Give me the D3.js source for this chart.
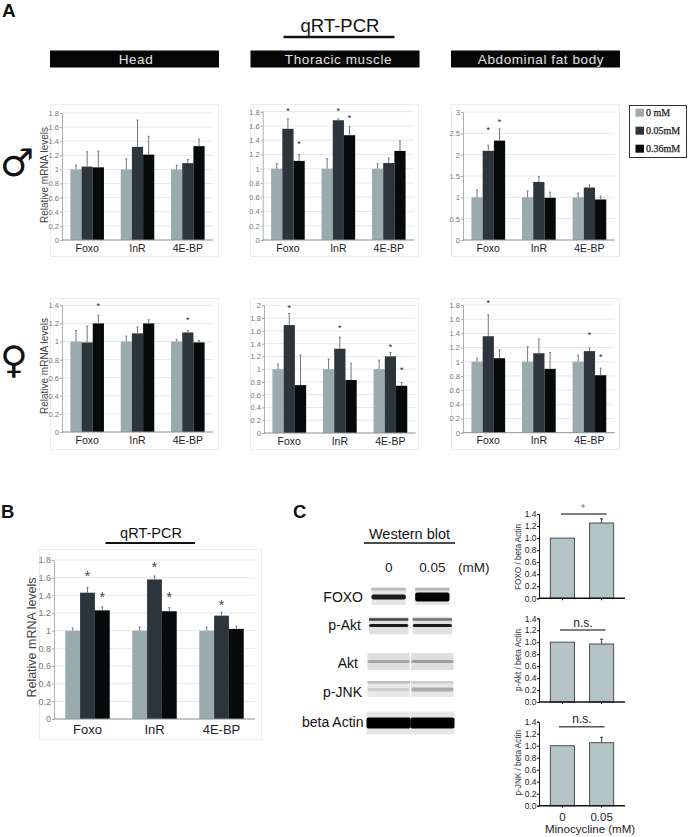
<!DOCTYPE html>
<html><head><meta charset="utf-8">
<style>html,body{margin:0;padding:0;background:#fff}svg{display:block}text{font-family:"Liberation Sans",Arial,sans-serif}</style>
<script src="https://cdn.jsdelivr.net/npm/d3@7"></script></head><body><div id="c"></div>
<script>
// ---- data ----
const categories = ["Foxo","InR","4E-BP"];
const doses = ["0 mM","0.05mM","0.36mM"];
const ticks18 = [0,0.2,0.4,0.6,0.8,1,1.2,1.4,1.6,1.8];
const ticks14 = [0,0.2,0.4,0.6,0.8,1,1.2,1.4];
const ticks20 = [0,0.2,0.4,0.6,0.8,1,1.2,1.4,1.6,1.8,2];
const ticks30 = [0,0.5,1,1.5,2,2.5,3];
const maleHeadValues = [[1,1.04,1.03],[1,1.32,1.21],[1,1.09,1.33]];
const maleHeadTops   = [[1.06,1.25,1.26],[1.15,1.70,1.47],[1.06,1.14,1.43]];
const maleThoraxValues = [[1,1.56,1.11],[1,1.68,1.47],[1,1.08,1.25]];
const maleThoraxTops   = [[1.07,1.70,1.20],[1.14,1.70,1.59],[1.07,1.15,1.39]];
const maleThoraxStars  = [[null,1.81,1.36],[null,1.81,1.725],[null,null,null]];
const maleFatValues = [[1,2.09,2.33],[1,1.36,0.99],[1,1.23,0.95]];
const maleFatTops   = [[1.17,2.22,2.60],[1.15,1.48,1.12],[1.10,1.29,1.03]];
const maleFatStars  = [[null,2.58,2.77],[null,null,null],[null,null,null]];
const femaleHeadValues = [[1,0.99,1.20],[1,1.09,1.20],[1,1.10,0.99]];
const femaleHeadTops   = [[1.12,1.17,1.29],[1.06,1.16,1.24],[1.02,1.12,1.01]];
const femaleHeadStars  = [[null,null,1.40],[null,null,null],[null,1.24,null]];
const femaleThoraxValues = [[1,1.69,0.75],[1,1.32,0.83],[1,1.20,0.74]];
const femaleThoraxTops   = [[1.08,1.87,1.22],[1.16,1.50,1.09],[1.14,1.26,0.79]];
const femaleThoraxStars  = [[null,1.96,null],[null,1.65,null],[null,1.36,1.0]];
const femaleFatValues = [[1,1.36,1.05],[1,1.12,0.90],[1,1.15,0.81]];
const femaleFatTops   = [[1.05,1.66,1.17],[1.21,1.32,1.13],[1.09,1.19,0.91]];
const femaleFatStars  = [[null,1.83,null],[null,null,null],[null,1.38,1.07]];
const panelBValues = [[1,1.43,1.23],[1,1.58,1.22],[1,1.17,1.02]];
const panelBTops   = [[1.03,1.49,1.27],[1.04,1.62,1.26],[1.04,1.21,1.05]];
const panelBStars  = [[null,1.64,1.40],[null,1.74,1.40],[null,1.31,null]];
const tissues = ["Head","Thoracic muscle","Abdominal fat body"];
const westernDoses = ["0","0.05"];
const blotRows = ["FOXO","p-Akt","Akt","p-JNK","beta Actin"];
const blotBandStrength = [[0.8,1],[0.8,0.8],[0.14,0.16],[0.03,0.12],[1,1]];
const blotUpperStrength = [[0.08,0.1],[0.6,0.35],[0,0],[0.08,0.03],[0,0]];
const blotBackground = [0.22,0.26,0.28,0.2,0.2];
const ratioLabels = ["FOXO / beta Actin","p-Akt / beta Actin","p-JNK / beta Actin"];
const ratioValues = [[1.0,1.25],[1.0,0.97],[1.0,1.05]];
const ratioTops   = [[1.0,1.32],[1.0,1.05],[1.0,1.14]];
const ratioTicks  = [0,0.2,0.4,0.6,0.8,1,1.2,1.4];
const ratioSig    = ["*","n.s.","n.s."];

// ---- drawing ----
const W=688,H=837;
const svg=d3.select("#c").append("svg").attr("width",W).attr("height",H);
const defs=svg.append("defs");
const blur=(id,s)=>defs.append("filter").attr("id",id).attr("x","-20%").attr("y","-80%").attr("width","140%").attr("height","260%")
  .append("feGaussianBlur").attr("stdDeviation",s);
blur("soft",0.5); blur("b1",0.7);
const root=svg.append("g");
const barColors=d3.scaleOrdinal().domain(doses).range(["#9aabb0","#2c353b","#060a0a"]);
const NARROW="'Liberation Sans Narrow','Liberation Sans',sans-serif";
const label=(s,x,y,size,opt={})=>root.append("text").attr("x",x).attr("y",y).attr("font-size",size)
  .attr("text-anchor",opt.anchor||"start").attr("fill",opt.fill||"#111").attr("font-weight",opt.weight||null)
  .style("font-family",opt.family||null).text(s);
const rule=(x1,x2,y,w,c="#111")=>root.append("line").attr("x1",x1).attr("x2",x2).attr("y1",y).attr("y2",y).attr("stroke",c).attr("stroke-width",w);

function barPanel(L,d){
  const g=root.append("g");
  g.append("rect").attr("x",L.fx0+.5).attr("y",L.fy0+.5).attr("width",L.fx1-L.fx0).attr("height",L.fy1-L.fy0)
    .attr("fill","#fff").attr("stroke","#ececec");
  const x=d3.scaleBand().domain(categories).range([L.x0,L.x1]);
  const sub=d3.scaleBand().domain(doses).range([0,x.bandwidth()]).paddingOuter(L.pad||0.75).paddingInner(0);
  const y=d3.scaleLinear().domain([0,d.ticks[d.ticks.length-1]]).range([L.y0,L.yt]);
  g.append("g").selectAll("line").data(d.ticks.filter(t=>t>0)).join("line")
    .attr("x1",L.x0).attr("x2",L.x1).attr("y1",y).attr("y2",y).attr("stroke","#e6e8e8").attr("stroke-width",1);
  const ya=d3.axisLeft(y).tickValues(d.ticks).tickSize(2).tickFormat(d3.format("~g"));
  const ax=g.append("g").attr("transform",`translate(${L.x0},0)`).call(ya);
  ax.selectAll("path,line").attr("stroke","#aab0b0");
  ax.selectAll("text").attr("font-size",L.tick||7.5).attr("fill","#777").attr("x",-3).style("font-family",NARROW);
  const gs=g.selectAll(".grp").data(categories).join("g").attr("transform",c=>`translate(${x(c)},0)`);
  gs.each(function(c,i){
    const s=d3.select(this);
    doses.forEach((dose,j)=>{
      const cx=sub(dose)+sub.bandwidth()/2, ty=y(d.tops[i][j]);
      s.append("rect").attr("x",sub(dose)).attr("y",y(d.values[i][j])).attr("width",sub.bandwidth())
        .attr("height",L.y0-y(d.values[i][j])).attr("fill",barColors(dose));
      s.append("line").attr("x1",cx).attr("x2",cx).attr("y1",ty).attr("y2",y(d.values[i][j])).attr("stroke","#777").attr("stroke-width",1);
      s.append("line").attr("x1",cx-1).attr("x2",cx+1).attr("y1",ty).attr("y2",ty).attr("stroke","#777").attr("stroke-width",1);
      if(d.stars&&d.stars[i][j]!=null){
        s.append("text").attr("x",cx).attr("y",y(d.stars[i][j])+(L.starDy||3.5)).attr("text-anchor","middle")
          .attr("font-size",L.star||9).attr("fill",L.starFill||"#222").text("*");
      }
    });
  });
  g.append("line").attr("x1",L.x0).attr("x2",L.x1).attr("y1",L.y0).attr("y2",L.y0).attr("stroke","#8b9090").attr("stroke-width",1);
  const xa=d3.axisBottom(x).tickSize(0);
  const bx=g.append("g").attr("transform",`translate(0,${L.y0})`).call(xa);
  bx.select("path").remove();
  bx.selectAll("text").attr("font-size",L.cat||10.5).attr("fill","#222").attr("y",0).attr("dy",0)
    .attr("transform",`translate(0,${L.catY})`);
  if(L.yl) g.append("text").attr("transform",`translate(${L.ylx},${L.yly}) rotate(-90)`).attr("text-anchor","middle")
    .attr("font-size",L.ylSize||10).attr("fill","#444").text("Relative mRNA levels");
}

// panel letters & headers
label("A",2,17,19,{weight:"bold"});
label("B",1,518,18.5,{weight:"bold"});
label("C",293,518,18.5,{weight:"bold"});
label("qRT-PCR",340,32,18.5,{anchor:"middle"});
rule(283.5,394.5,37,2.4);
const headerX=d3.scalePoint().domain(tissues).range([50,451]);
const headerTextX=d3.scalePoint().domain(tissues).range([136,541]);
root.selectAll(".hdr").data(tissues).join("rect").attr("x",headerX).attr("y",50.5).attr("width",169).attr("height",17).attr("fill","#060606");
tissues.forEach(t=>root.append("text").attr("x",headerTextX(t)).attr("y",63.5).attr("text-anchor","middle").attr("font-size",13.5)
  .attr("letter-spacing",0.6).attr("fill","#e0e0e0").text(t));

// sex glyphs
label("\u2642",0,176,38,{family:"'DejaVu Sans'",weight:"bold"});
label("\u2640",0,373,38,{family:"'DejaVu Sans'",weight:"bold"});

// rows
barPanel({fx0:50,fx1:218,fy0:104,fy1:256,x0:62,x1:213,y0:240,yt:113,catY:12,yl:1,ylx:47.5,yly:175},
  {values:maleHeadValues,tops:maleHeadTops,ticks:ticks18});
barPanel({fx0:250,fx1:418,fy0:104,fy1:256,x0:262.7,x1:414,y0:240,yt:111.7,catY:12},
  {values:maleThoraxValues,tops:maleThoraxTops,stars:maleThoraxStars,ticks:ticks18});
barPanel({fx0:451,fx1:619,fy0:104,fy1:256,x0:463,x1:614.7,y0:240,yt:112,catY:12},
  {values:maleFatValues,tops:maleFatTops,stars:maleFatStars,ticks:ticks30});
barPanel({fx0:50,fx1:218,fy0:298,fy1:449,x0:62,x1:213,y0:432,yt:305.3,catY:12,yl:1,ylx:47.5,yly:366},
  {values:femaleHeadValues,tops:femaleHeadTops,stars:femaleHeadStars,ticks:ticks14});
barPanel({fx0:250,fx1:418,fy0:298,fy1:449,x0:264,x1:415.7,y0:433,yt:305.3,catY:12},
  {values:femaleThoraxValues,tops:femaleThoraxTops,stars:femaleThoraxStars,ticks:ticks20});
barPanel({fx0:451,fx1:619,fy0:298,fy1:449,x0:463,x1:614.7,y0:432.7,yt:305,catY:11.5},
  {values:femaleFatValues,tops:femaleFatTops,stars:femaleFatStars,ticks:ticks18});

// legend
root.append("rect").attr("x",629.5).attr("y",105.5).attr("width",57).attr("height",52).attr("fill","#fff").attr("stroke","#333").attr("stroke-width",1);
const legY=d3.scalePoint().domain(doses).range([112.7,148.7]);
root.selectAll(".leg").data(doses).join("rect").attr("x",635.5).attr("y",d=>legY(d)-4).attr("width",8.5).attr("height",8).attr("fill",barColors);
doses.forEach(d=>root.append("text").attr("x",646).attr("y",legY(d)+3.5).attr("font-size",10).attr("fill","#222").attr("stroke","#222").attr("stroke-width",.25)
  .style("font-family","'Liberation Serif',serif").text(d));

// panel B
label("qRT-PCR",151,538,14.5,{anchor:"middle"});
rule(105.5,195,543,2.2);
barPanel({fx0:39,fx1:261,fy0:549,fy1:739,x0:54,x1:255,y0:719,yt:560,catY:15,cat:13,tick:9,pad:0.76,star:14,starDy:7,starFill:"#444",yl:1,ylx:35.5,yly:637.5,ylSize:12.5},
  {values:panelBValues,tops:panelBTops,stars:panelBStars,ticks:ticks18});

// panel C: western blot
label("Western blot",409.5,539,14.5,{anchor:"middle"});
rule(364,455,543,1.6);
const laneX=d3.scaleBand().domain(westernDoses).range([369,452]).paddingInner(0.1);
westernDoses.forEach(d=>label(d,laneX(d)+laneX.bandwidth()/2,572,13.5,{anchor:"middle",fill:"#222"}));
label("(mM)",458,572,13.5,{fill:"#222"});
const rowY=d3.scaleOrdinal().domain(blotRows).range([596,625.5,661.5,689.5,723]);
const rowH=d3.scaleOrdinal().domain(blotRows).range([18,17.5,17,15,23]);
const rowBand=d3.scaleOrdinal().domain(blotRows).range([[5,9],[3,3],[3,3],[3,4],[11,11]]);
const rowUpper=d3.scaleOrdinal().domain(blotRows).range([6,6.5,0,4,0]);
const rowInset=d3.scaleOrdinal().domain(blotRows).range([2.5,0,-1.5,-1.5,-2.5]);
const rowLabelEnd=d3.scaleOrdinal().domain(blotRows).range([363,361,358,362,363.5]);
const rowLabelBase=d3.scaleOrdinal().domain(blotRows).range([601.5,630,667.5,696.5,727]);
const gray=d3.scaleLinear().domain([0,1]).range(["#fff","#888"]);
const bandC=d3.scaleLinear().domain([0,0.2,0.8,1]).range(["#d8d8d8","#8f8f8f","#1a1a1a","#050505"]);
blotRows.forEach((r,i)=>{
  label(r,rowLabelEnd(r),rowLabelBase(r),14,{anchor:"end"});
  const g=root.append("g");
  westernDoses.forEach((d,j)=>{
    const inset=rowInset(r), h=rowH(r);
    const x=laneX(d)+inset, w=laneX.bandwidth()-2*inset;
    const strength=blotBandStrength[i][j], upper=blotUpperStrength[i][j], t=rowBand(r)[j];
    g.append("rect").attr("x",x).attr("y",rowY(r)-h/2).attr("width",w).attr("height",h)
      .attr("fill",gray(blotBackground[i])).attr("filter","url(#soft)");
    if(upper>0) g.append("rect").attr("x",x).attr("y",rowY(r)-h/2+rowUpper(r)-5).attr("width",w).attr("height",2.5)
      .attr("fill",bandC(upper)).attr("filter","url(#b1)");
    g.append("rect").attr("x",x).attr("y",rowY(r)-t/2+(r==="FOXO"?1:0)).attr("width",w).attr("height",t)
      .attr("rx",2).attr("fill",bandC(strength)).attr("filter","url(#b1)");
  });
});

// panel C: ratio charts
const ratioTop=d3.scaleOrdinal().domain(ratioLabels).range([514,618.3,721.7]);
const ratioBase=d3.scaleOrdinal().domain(ratioLabels).range([598.3,702,805.7]);
const sigX=d3.scaleOrdinal().domain(ratioLabels).range([561,560,559]);
const sigY=d3.scaleOrdinal().domain(ratioLabels).range([514,630,726.7]);
const ratioYl=d3.scaleOrdinal().domain(ratioLabels).range([557,660,762.7]);
const rx=d3.scaleBand().domain(westernDoses).range([539,625]).paddingInner(0.385).paddingOuter(0.29);
ratioLabels.forEach((name,i)=>{
  const g=root.append("g");
  const y=d3.scaleLinear().domain([0,1.4]).range([ratioBase(name),ratioTop(name)]);
  westernDoses.forEach((d,j)=>{
    const cx=rx(d)+rx.bandwidth()/2;
    if(ratioTops[i][j]>ratioValues[i][j]){
      g.append("line").attr("x1",cx).attr("x2",cx).attr("y1",y(ratioTops[i][j])).attr("y2",y(ratioValues[i][j])).attr("stroke","#333");
      g.append("line").attr("x1",cx-1.5).attr("x2",cx+1.5).attr("y1",y(ratioTops[i][j])).attr("y2",y(ratioTops[i][j])).attr("stroke","#333");
    }
    g.append("rect").attr("x",rx(d)).attr("y",y(ratioValues[i][j])).attr("width",rx.bandwidth())
      .attr("height",ratioBase(name)-y(ratioValues[i][j])).attr("fill","#b4c3c6").attr("stroke","#4a5050").attr("stroke-width",1);
    g.append("line").attr("x1",cx).attr("x2",cx).attr("y1",ratioBase(name)).attr("y2",ratioBase(name)+2).attr("stroke","#111");
  });
  const ax=g.append("g").attr("transform",`translate(539,0)`).call(d3.axisLeft(y).tickValues(ratioTicks).tickSize(2).tickFormat(d3.format(".1f")));
  ax.selectAll("path,line").attr("stroke","#111");
  ax.selectAll("text").attr("font-size",8.5).attr("fill","#222").attr("x",-2.5).style("font-family",NARROW);
  rule(539,625,ratioBase(name),1.4);
  g.append("text").attr("transform",`translate(521,${ratioYl(name)}) rotate(-90)`).attr("text-anchor","middle")
    .attr("font-size",8.2).attr("fill","#333").text(name);
  rule(sigX(name),sigX(name)+45.5,sigY(name),1.4,"#555");
  if(ratioSig[i]==="*") label("*",sigX(name)+22,sigY(name)-2,11,{anchor:"middle",fill:"#777"});
  else label(ratioSig[i],sigX(name)+23,sigY(name)-3.5,12,{anchor:"middle",fill:"#222"});
});
westernDoses.forEach(d=>label(d,rx(d)+rx.bandwidth()/2,820.5,11.5,{anchor:"middle",fill:"#222"}));
label("Minocycline (mM)",590,833,11.5,{anchor:"middle",fill:"#222"});
</script></body></html>
